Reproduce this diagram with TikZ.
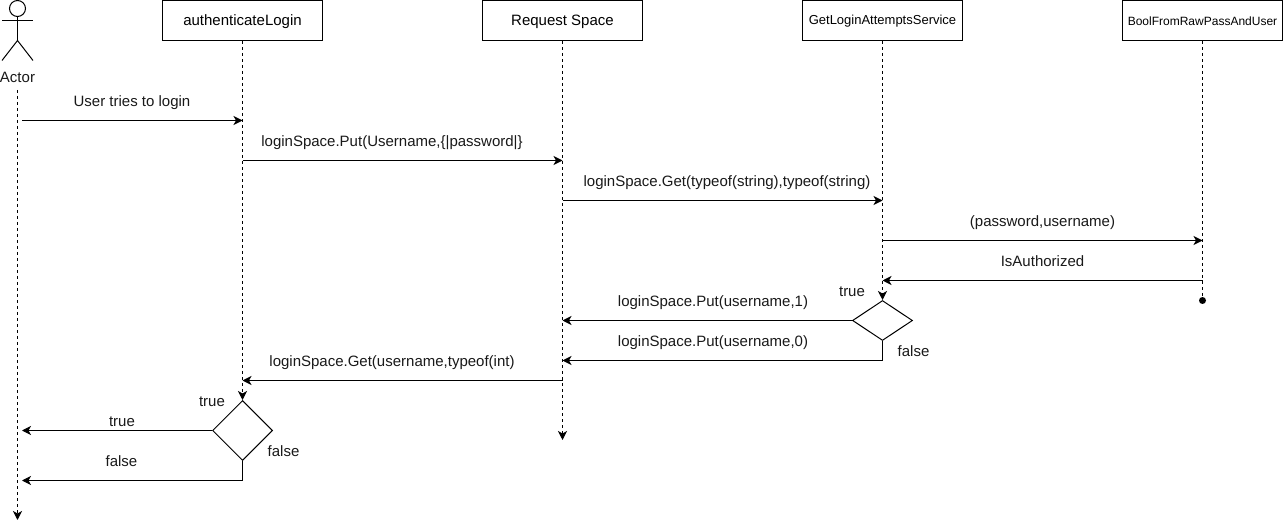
\documentclass[tikz,border=0pt]{standalone}
\usepackage{fontspec}
\setmainfont{Liberation Sans}
\usetikzlibrary{arrows.meta,shapes.geometric}
\newcommand{\boxtext}[1]{\raisebox{-1pt}[\height][\depth]{#1}}
\tikzset{
  x=1pt,y=-1pt,
  lifebox/.style={draw=black,line width=1pt,minimum width=160pt,minimum height=40pt,inner sep=0pt,font=\fontsize{15}{18}\selectfont},
  smallbox/.style={lifebox,font=\fontsize{13}{15}\selectfont},
  tinybox/.style={lifebox,font=\fontsize{12}{14}\selectfont},
  lifeline/.style={draw=black,line width=1pt,dash pattern=on 3pt off 3pt,-{Stealth[length=9pt,width=9pt,inset=2.5pt]}},
  plainlife/.style={draw=black,line width=1pt,dash pattern=on 3pt off 3pt},
  msg/.style={draw=black,line width=1pt,-{Stealth[length=9pt,width=9pt,inset=2.5pt]}},
  solid line/.style={draw=black,line width=1pt},
  lbl/.style={font=\fontsize{15}{18}\selectfont,inner sep=0pt,text=black!90},
}
\begin{document}
\begin{tikzpicture}
\useasboundingbox (0,0) rectangle (1283,529);
% participants
\node[lifebox] (auth) at (242.5,20.5) {\boxtext{authenticateLogin}};
\node[lifebox] (space) at (562.5,20.5) {\boxtext{Request Space}};
\node[smallbox] (get) at (882.5,20.5) {\boxtext{GetLoginAttemptsService}};
\node[tinybox] (bool) at (1202.5,20.5) {\boxtext{BoolFromRawPassAndUser}};
% actor
\draw[solid line] (17.5,8.5) circle (8);
\draw[solid line] (17.5,16.5) -- (17.5,40.5);
\draw[solid line] (2,20.5) -- (33,20.5);
\draw[solid line] (2,60.5) -- (17.5,40.5) -- (33,60.5);
\node[lbl] (actor) at (17.5,77.5) {Actor};
% decisions
\node[draw=black,line width=1pt,shape=diamond,minimum width=60pt,minimum height=40pt,inner sep=0pt,aspect=1.5] (d1) at (882.5,320.5) {};
\node[draw=black,line width=1pt,shape=diamond,minimum width=60pt,minimum height=60pt,inner sep=0pt,aspect=1] (d2) at (242.5,430.5) {};
% free ends
\coordinate (actorTop) at (17.5,90);
\coordinate (actorEnd) at (17.5,520);
\coordinate (spaceEnd) at (562.5,440);
\coordinate (boolEnd) at (1202.5,300.5);
% lifelines
\draw[lifeline] (actorTop) -- (actorEnd);
\draw[lifeline] (auth.south) -- (d2.north);
\draw[lifeline] (space.south) -- (spaceEnd);
\draw[lifeline] (get.south) -- (d1.north);
\draw[plainlife] (bool.south) -- (boolEnd);
\fill[black] (boolEnd) circle (3.5);
% messages
\coordinate (a1) at (22,120.5);
\draw[msg] (a1) -- (auth.south |- a1);
\node[lbl] (t1) at (132,102.5) {User tries to login};
\coordinate (a2) at (242.5,160.5);
\draw[msg] (a2) -- (space.south |- a2);
\node[lbl] (t2) at (392,142.5) {loginSpace.Put(Username,\{|password|\}};
\coordinate (a3) at (562.5,200.5);
\draw[msg] (a3) -- (get.south |- a3);
\node[lbl] (t3) at (727,182.5) {loginSpace.Get(typeof(string),typeof(string)};
\coordinate (a4) at (882.5,240.5);
\draw[msg] (a4) -- (bool.south |- a4);
\node[lbl] (t4) at (1042.5,222.5) {(password,username)};
\coordinate (a5) at (1202.5,280.5);
\draw[msg] (a5) -- (get.south |- a5);
\node[lbl] (t5) at (1042.5,261.5) {IsAuthorized};
\draw[msg] (d1.west) -- (space.south |- d1.west);
\node[lbl] (t6) at (713,302.5) {loginSpace.Put(username,1)};
\coordinate (a7) at (562.5,360.5);
\draw[msg] (d1.south) |- (a7);
\node[lbl] (t7) at (713,342.5) {loginSpace.Put(username,0)};
\coordinate (a8) at (242.5,380.5);
\draw[msg] (space.south |- a8) -- (a8);
\node[lbl] (t8) at (392,362.5) {loginSpace.Get(username,typeof(int)};
\coordinate (a9) at (22,430.5);
\draw[msg] (d2.west) -- (a9);
\node[lbl] (t9) at (122,421.5) {true};
\coordinate (a10) at (22,480.5);
\draw[msg] (d2.south) |- (a10);
\node[lbl] (t10) at (121.5,461.5) {false};
\node[lbl] (t11) at (852,291.5) {true};
\node[lbl] (t12) at (913.5,351.5) {false};
\node[lbl] (t13) at (212,401.5) {true};
\node[lbl] (t14) at (283.5,451.5) {false};
\end{tikzpicture}
\end{document}
